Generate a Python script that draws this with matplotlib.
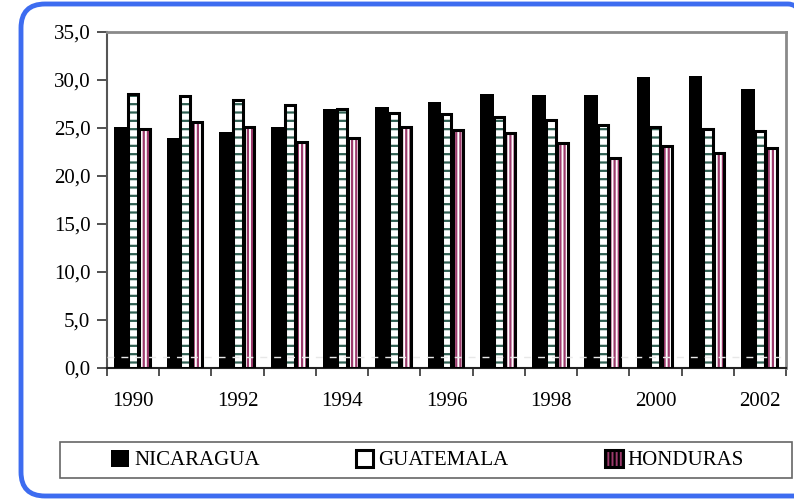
import matplotlib
matplotlib.use("Agg")
import matplotlib.pyplot as plt
import numpy as np
from matplotlib.patches import Patch, Rectangle, PathPatch
from matplotlib.path import Path
from matplotlib.transforms import IdentityTransform
from matplotlib.ticker import FuncFormatter

years = [1990, 1991, 1992, 1993, 1994, 1995, 1996, 1997, 1998, 1999, 2000, 2001, 2002]
nicaragua = [25.1, 24.0, 24.6, 25.1, 27.0, 27.2, 27.7, 28.5, 28.4, 28.4, 30.3, 30.4, 29.1]
guatemala = [28.5, 28.3, 27.9, 27.4, 27.0, 26.6, 26.5, 26.1, 25.8, 25.3, 25.1, 24.9, 24.7]
honduras = [24.9, 25.6, 25.1, 23.5, 24.0, 25.1, 24.8, 24.5, 23.4, 21.9, 23.1, 22.4, 22.9]
series_names = ["NICARAGUA", "GUATEMALA", "HONDURAS"]
y_ticks = [0, 5, 10, 15, 20, 25, 30, 35]

plt.rcParams['font.family'] = ['Liberation Serif', 'DejaVu Serif']
plt.rcParams['hatch.linewidth'] = 1.6

gua_hatch_col = "#2f5f52"
hon_col = "#9c3a6c"

fig = plt.figure(figsize=(7.94, 5.0), dpi=100)

# blue rounded frame (open on the right, it runs off the picture), pixel units
l, b, t, r, rad = 21, 4, 496, 800, 24
verts = [(r, b), (l + rad, b), (l, b), (l, b + rad), (l, t - rad), (l, t), (l + rad, t),
         (r - 12, t), (r - 4, t), (r, t - 8)]
codes = [Path.MOVETO, Path.LINETO, Path.CURVE3, Path.CURVE3, Path.LINETO,
         Path.CURVE3, Path.CURVE3, Path.LINETO, Path.CURVE3, Path.CURVE3]
frame = PathPatch(Path(verts, codes), transform=IdentityTransform(), fill=False,
                  edgecolor="#3d6cf0", linewidth=3.5)
fig.patches.append(frame)

ax = fig.add_axes([107 / 794, 132 / 500, 679 / 794, 336 / 500])
x = np.arange(len(years))

ax.bar(x - 0.23, nicaragua, width=0.26, color="black", linewidth=0, zorder=3)

ax.bar(x, guatemala, width=0.19, color="white", edgecolor=gua_hatch_col,
       hatch="--", linewidth=0, zorder=3)
ax.bar(x, guatemala, width=0.19, fill=False, edgecolor="black", linewidth=2.2, zorder=4)

ax.bar(x + 0.22, honduras, width=0.2, color="white", edgecolor=hon_col,
       hatch="||||", linewidth=0, zorder=3)
ax.bar(x + 0.22, honduras, width=0.2, fill=False, edgecolor="black", linewidth=2.2, zorder=4)

# faint dashed line near the base
ax.axhline(1.1, color="#e8e8e8", linewidth=1, linestyle=(0, (5, 5)), zorder=5)

ax.set_xlim(-0.5, len(years) - 0.5)
ax.set_ylim(0, 35)
ax.set_yticks(y_ticks)
ax.yaxis.set_major_formatter(FuncFormatter(lambda v, p: f"{v:.1f}".replace(".", ",")))

ax.set_xticks(np.arange(-0.5, len(years), 1.0))
ax.set_xticklabels([])
ax.set_xticks(x[::2], minor=True)
ax.set_xticklabels([str(y) for y in years[::2]], minor=True)
ax.tick_params(axis="x", which="major", length=6, width=1.2, color="#333333")
ax.tick_params(axis="x", which="minor", length=0, pad=17, labelsize=15)
ax.tick_params(axis="y", length=7, width=1.2, pad=5, labelsize=15, color="#333333")

for s in ["top", "right"]:
    ax.spines[s].set_color("#8a8a8a")
    ax.spines[s].set_linewidth(2)
ax.spines["left"].set_color("#555555")
ax.spines["left"].set_linewidth(1.5)
ax.spines["bottom"].set_color("#222222")
ax.spines["bottom"].set_linewidth(1.5)

# legend box
box = Rectangle((60 / 794, 22 / 500), 732 / 794, 36 / 500, transform=fig.transFigure,
                fill=False, edgecolor="#666666", linewidth=1.2)
fig.patches.append(box)

handles = [
    Patch(facecolor="black", edgecolor="black", linewidth=0),
    Patch(facecolor="white", edgecolor="black", linewidth=2.2),
    Patch(facecolor=hon_col, edgecolor="black", linewidth=2.2, hatch="||||"),
]
leg = fig.legend(handles, series_names, loc="center left", ncol=3, mode="expand",
                 bbox_to_anchor=(111 / 794, 22 / 500, 633 / 794, 36 / 500),
                 frameon=False, fontsize=15, handlelength=0.85, handleheight=0.9,
                 handletextpad=0.25, borderpad=0, borderaxespad=0)

fig.savefig("out.png", dpi=100)
